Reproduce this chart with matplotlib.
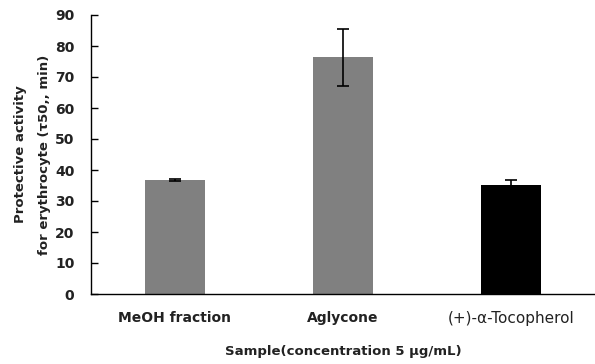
import matplotlib
matplotlib.use("Agg")
import matplotlib.pyplot as plt

categories = ["MeOH fraction", "Aglycone", "(+)-\u03b1-Tocopherol"]
values = [36.8, 76.3, 35.2]
errors = [0.2, 9.2, 1.5]
colors = ["#808080", "#808080", "#000000"]
yticks = [0, 10, 20, 30, 40, 50, 60, 70, 80, 90]

fig = plt.figure(figsize=(5.95, 3.64), dpi=100)
ax = fig.add_axes([91/595, 1-294/364, 504/595, 279/364])
x = [i + 0.5 for i in range(len(categories))]
ax.bar(x, values, width=0.357, color=colors, yerr=errors, capsize=4,
       error_kw=dict(elinewidth=1.2, capthick=1.2, ecolor="black"))
ax.set_xlim(0, 3)
ax.set_ylim(0, 90)
ax.set_yticks(yticks)
ax.set_xticks(x)
ax.set_xticklabels(categories, fontsize=10, fontweight="bold", color="#222222")
xl = ax.get_xticklabels()
xl[2].set_fontweight("normal")
xl[2].set_fontsize(11)
ax.tick_params(axis="x", length=0, pad=12)
ax.tick_params(axis="y", length=5, direction="in", labelsize=10, width=1, pad=12,
               labelcolor="#222222")
for lab in ax.get_yticklabels():
    lab.set_fontweight("bold")
for s in ["top", "right"]:
    ax.spines[s].set_visible(False)
ax.spines["left"].set_linewidth(1)
ax.spines["bottom"].set_linewidth(1)
ax.set_ylabel("Protective activity\nfor erythrocyte (\u03c450,, min)", fontsize=9.5,
              fontweight="bold", labelpad=3, linespacing=2.1, color="#222222")
ax.set_xlabel("Sample(concentration 5 \u03bcg/mL)", fontsize=9.5, fontweight="bold",
              labelpad=14, color="#222222")
fig.savefig("out.png", dpi=100)
